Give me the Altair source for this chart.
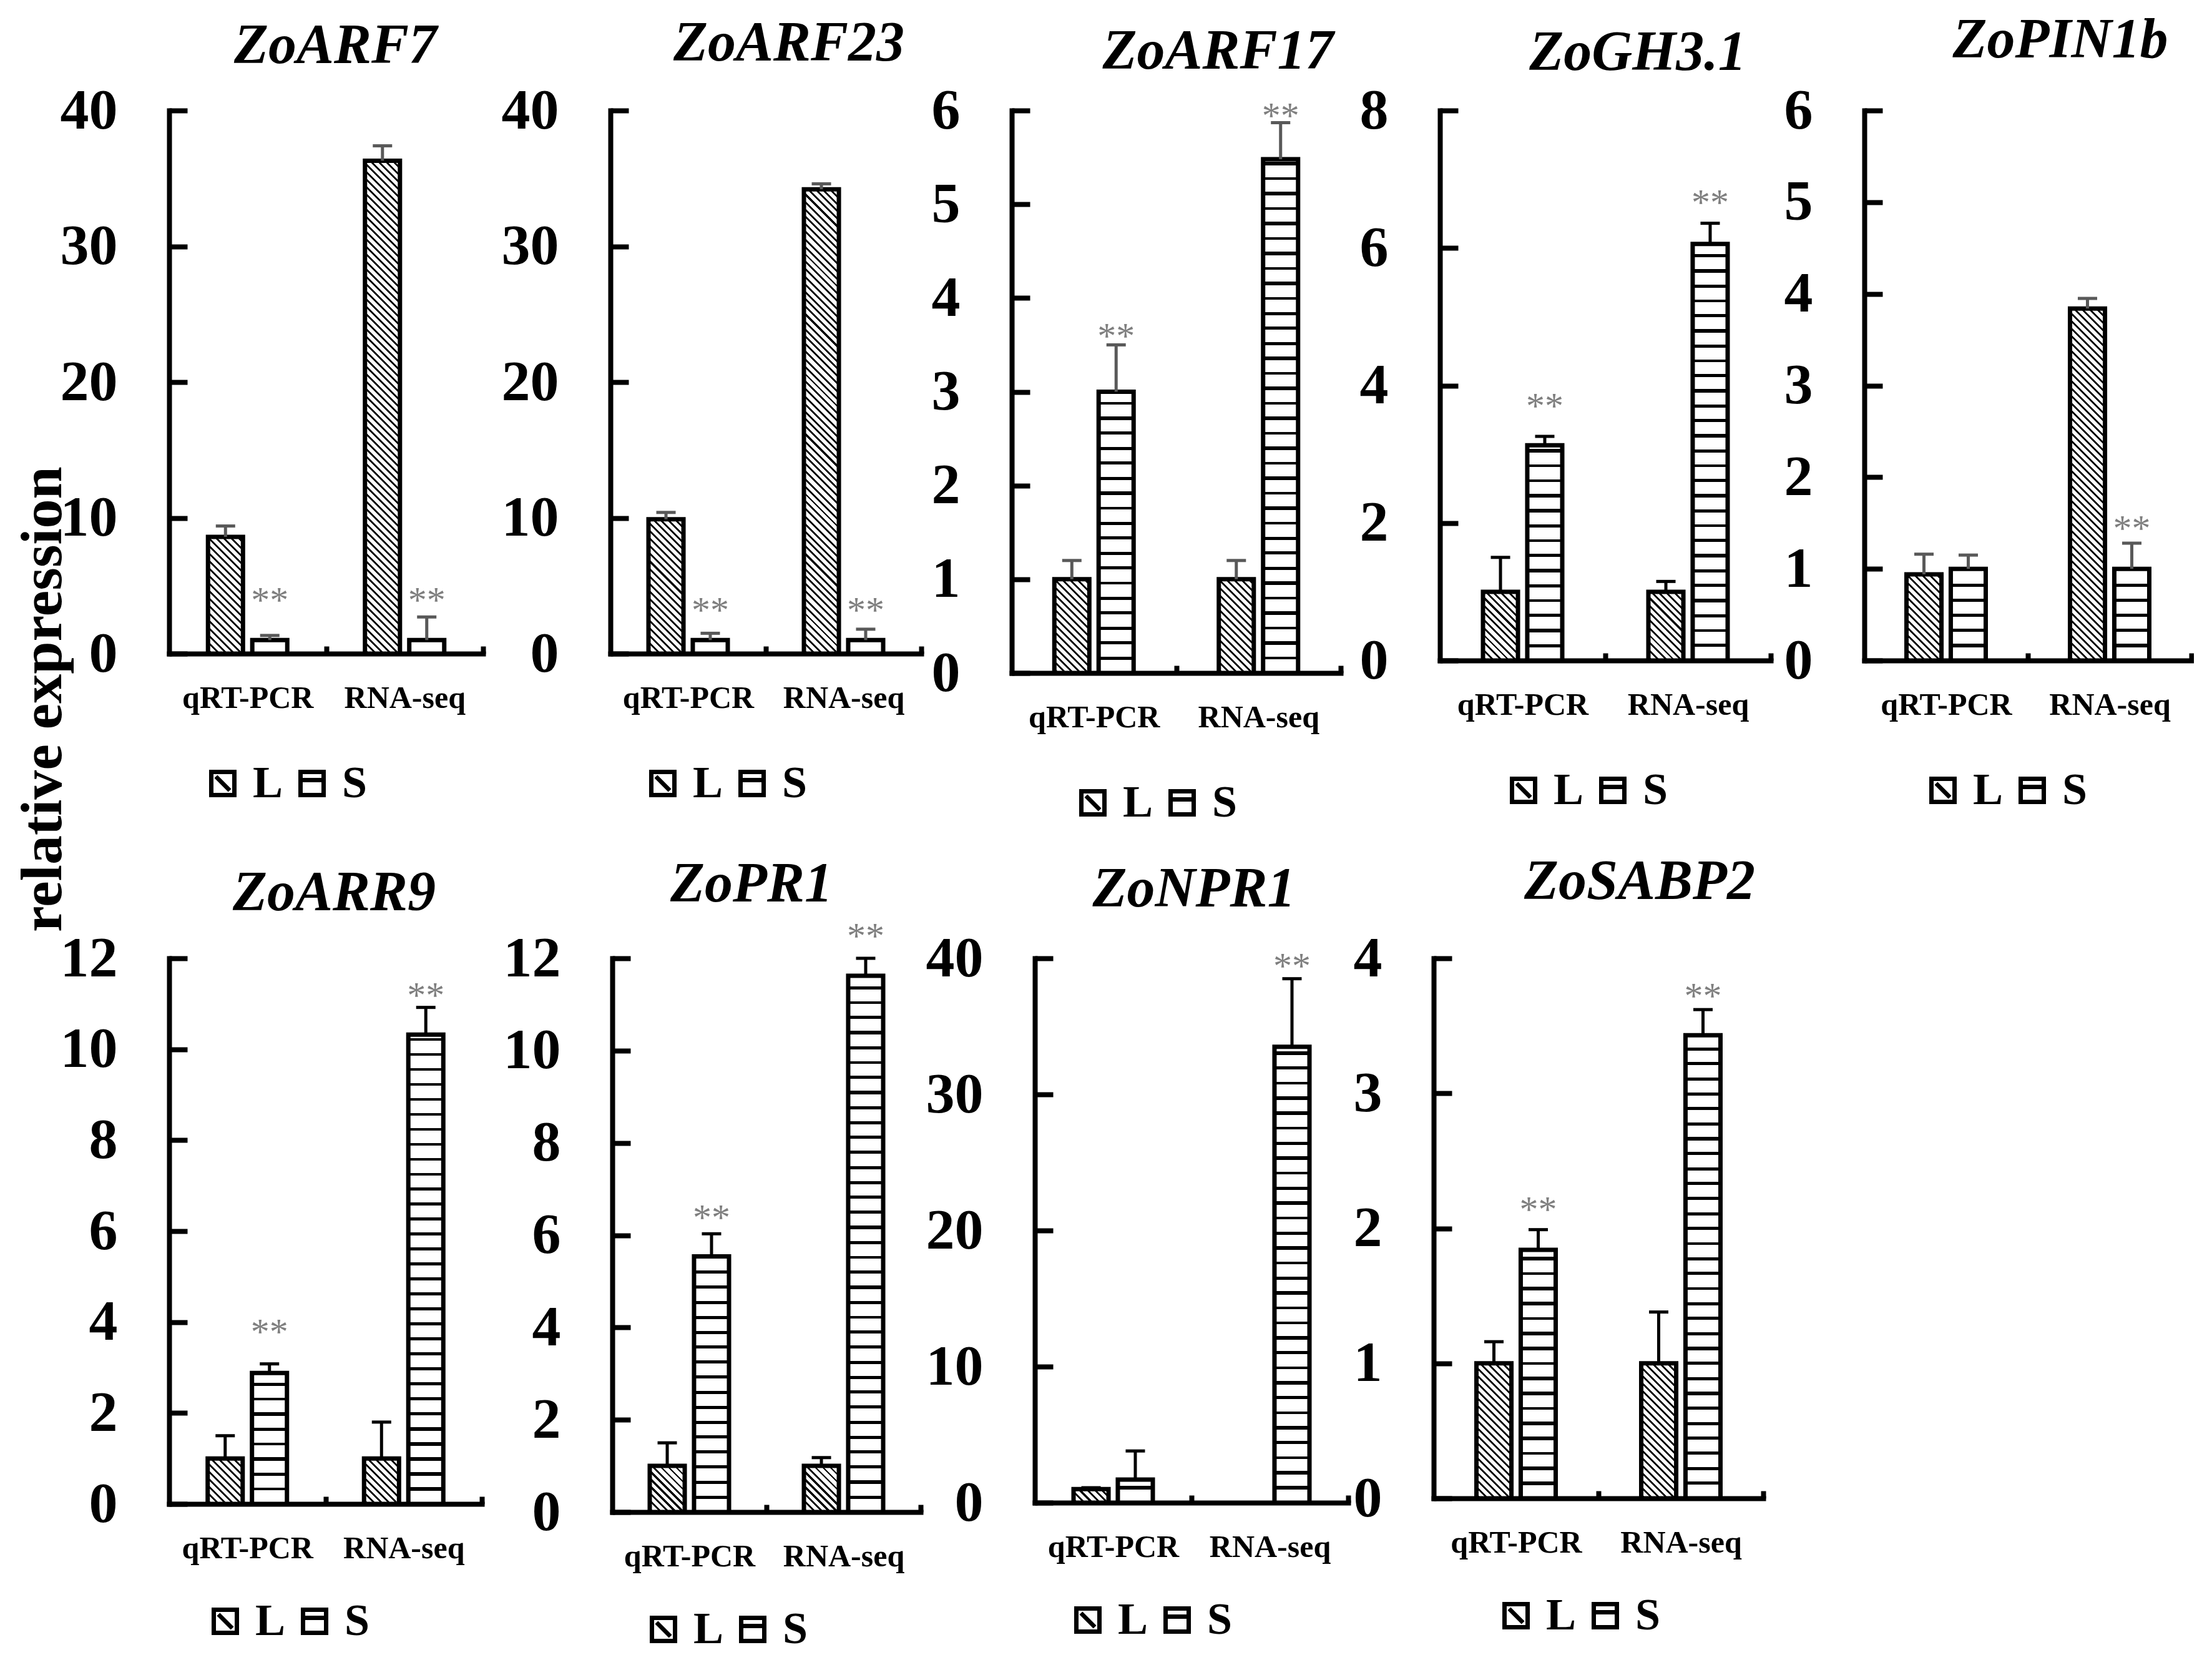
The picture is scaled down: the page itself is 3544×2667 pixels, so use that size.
import altair as alt
import pandas as pd

SERIF = "Liberation Serif"

GENES = ["ZoARF7", "ZoARF23", "ZoARF17", "ZoGH3.1", "ZoPIN1b",
         "ZoARR9", "ZoPR1", "ZoNPR1", "ZoSABP2"]
METHODS = ["qRT-PCR", "RNA-seq"]
GROUPS = ["L", "S"]
Y_MAX = [40, 40, 6, 8, 6, 12, 12, 40, 4]
Y_STEP = [10, 10, 1, 2, 1, 2, 2, 10, 1]

# bar heights, order: qRT-PCR L, qRT-PCR S, RNA-seq L, RNA-seq S
MEAN = [
    [8.6, 1.0, 36.3, 1.0],
    [9.9, 1.0, 34.2, 1.0],
    [1.0, 3.0, 1.0, 5.48],
    [1.0, 3.13, 1.0, 6.06],
    [0.94, 1.0, 3.84, 1.0],
    [1.0, 2.88, 1.0, 10.32],
    [1.0, 5.54, 1.0, 11.62],
    [1.0, 1.7, 0.0, 33.5],
    [1.0, 1.84, 1.0, 3.43],
]
# top of each error bar
UPPER = [
    [9.4, 1.34, 37.4, 2.7],
    [10.4, 1.5, 34.6, 1.8],
    [1.2, 3.5, 1.2, 5.87],
    [1.5, 3.26, 1.15, 6.36],
    [1.16, 1.15, 3.95, 1.28],
    [1.5, 3.08, 1.8, 10.92],
    [1.5, 6.03, 1.18, 12.0],
    [1.1, 3.8, None, 38.5],
    [1.16, 1.99, 1.38, 3.62],
]
# height of the "**" marks, None where there is none
STARS = [
    [None, 4.3, None, 4.3],
    [None, 3.6, None, 3.6],
    [None, 3.65, None, 6.0],
    [None, 3.78, None, 6.74],
    [None, None, None, 1.5],
    [None, 3.9, None, 11.3],
    [None, 6.5, None, 12.6],
    [None, None, None, 39.8],
    [None, 2.18, None, 3.76],
]

PLOT_W = [503, 498, 527, 530, 524, 501, 494, 502, 528]
PLOT_H = [870, 870, 901, 881, 881, 874, 887, 872, 865]
LEFT_GAP = [172, 200, 141, 155, 146, 172, 205, 179, 133]
TITLE_OFF = [11, 15, 2, 0, 20, 12, 8, 18, 30]
TITLE_DX = [15, 37, 67, 52, 52, 14, -24, 4, 66]
LEGEND_X = [50, 48, 94, 98, 90, 54, 46, 49, 96]
LEGEND_Y = [172, 172, 172, 172, 172, 152, 152, 152, 152]
ERR_COLOR = ["#595959", "#595959", "#595959", "black", "#595959",
             "black", "black", "black", "black"]

GROUP_BAND = 127
SUB_PAD = 0.21
BAR_W = GROUP_BAND / (2 - SUB_PAD) * (1 - SUB_PAD)

SYMBOLS = ["M-1,-1H1V1H-1Z M-0.6,-0.6L0.6,0.6", "M-1,-1H1V1H-1Z M-1,-0.3H1"]


def sharp_stops(centres, half):
    stops = [{"offset": 0.0, "color": "white"}]
    last = 0.0
    for c in sorted(centres):
        a = round(max(c - half, last), 5)
        b = round(min(c + half, 1.0), 5)
        if b <= a:
            continue
        stops += [{"offset": a, "color": "white"}, {"offset": a, "color": "black"},
                  {"offset": b, "color": "black"}, {"offset": b, "color": "white"}]
        last = b
    stops.append({"offset": 1.0, "color": "white"})
    return stops


def stripes(h):
    # horizontal lines every 24px, counted from the base of the bar
    centres = []
    d = 24
    while d < h - 3:
        centres.append(1 - d / h)
        d += 24
    return {"gradient": "linear", "x1": 0, "y1": 0, "x2": 0, "y2": 1,
            "stops": sharp_stops(centres, 2.5 / h)}


def diagonal(h):
    # "\" hatch: the gradient runs across x - y, from the bottom-left corner
    w = BAR_W
    r = h / w
    k = (1 + r) / (1 + r * r)
    span = w + h
    centres = []
    s = 6
    while s < span:
        centres.append(s / span)
        s += 12
    return {"gradient": "linear", "x1": 0, "y1": 1,
            "x2": round(k, 6), "y2": round(1 - k * r, 6),
            "stops": sharp_stops(centres, 2.0 / span)}


def panel(i):
    rows = []
    for mi, method in enumerate(METHODS):
        for gi, grp in enumerate(GROUPS):
            k = 2 * mi + gi
            rows.append({"method": method, "group": grp, "mean": MEAN[i][k],
                         "upper": UPPER[i][k], "star": STARS[i][k]})
    df = pd.DataFrame(rows)
    w, h = PLOT_W[i], PLOT_H[i]
    step = w / 2
    pad = 1 - GROUP_BAND / step

    x_axis = alt.Axis(title=None, labelAngle=0, labelFontSize=50, labelPadding=58,
                      labelLimit=500, tickSize={"expr": "-12"}, tickWidth=8,
                      tickOffset=step / 2, labelOffset=-step / 2, domainCap="square")
    x = alt.X("method:N", scale=alt.Scale(domain=METHODS, paddingInner=pad,
                                          paddingOuter=pad / 2), axis=x_axis)
    xo = alt.XOffset("group:N", scale=alt.Scale(domain=GROUPS, paddingInner=SUB_PAD,
                                                paddingOuter=0))
    y_axis = alt.Axis(values=list(range(0, Y_MAX[i] + 1, Y_STEP[i])), format="d",
                      labelFontSize=92, labelPadding=112, tickSize={"expr": "-29"},
                      tickWidth=8, minExtent=LEFT_GAP[i], domainCap="square", title=None)
    y_scale = alt.Scale(domain=[0, Y_MAX[i]], nice=False)

    base = alt.Chart(df)
    layers = []
    for r in rows:
        if r["mean"] <= 0:
            continue
        bar_h = r["mean"] / Y_MAX[i] * h
        fill = diagonal(bar_h) if r["group"] == "L" else stripes(bar_h)
        layers.append(
            base.transform_filter(
                (alt.datum.method == r["method"]) & (alt.datum.group == r["group"])
            ).mark_bar(fill=fill, stroke="black", strokeWidth=7).encode(
                x=x, xOffset=xo, y=alt.Y("mean:Q", scale=y_scale, axis=y_axis)
            )
        )

    err = base.transform_filter("isValid(datum.upper)")
    layers.append(err.mark_rule(color=ERR_COLOR[i], strokeWidth=5).encode(
        x=x, xOffset=xo, y=alt.Y("mean:Q", scale=y_scale, axis=y_axis), y2="upper:Q"))
    layers.append(err.mark_tick(color=ERR_COLOR[i], thickness=5, size=31, opacity=1).encode(
        x=x, xOffset=xo, y=alt.Y("upper:Q", scale=y_scale, axis=y_axis)))

    layers.append(base.transform_filter("isValid(datum.star)").mark_text(
        text="**", font=SERIF, fontSize=60, color="#7f7f7f", baseline="middle", dy=10
    ).encode(x=x, xOffset=xo, y=alt.Y("star:Q", scale=y_scale, axis=y_axis)))

    # legend only: no rows reach this layer, the legend comes from the shape scale
    layers.append(base.transform_filter("false").mark_point(
        filled=False, color="black", strokeWidth=7, size=1369, opacity=1).encode(
        x=x, xOffset=xo, y=alt.Y(datum=0, scale=y_scale, axis=y_axis),
        shape=alt.Shape("group:N", scale=alt.Scale(domain=GROUPS, range=SYMBOLS),
                        legend=alt.Legend(title=None, orient="none", legendX=LEGEND_X[i],
                                          legendY=h + LEGEND_Y[i], direction="horizontal",
                                          symbolSize=1369, symbolStrokeWidth=7,
                                          symbolStrokeColor="black", symbolOpacity=1,
                                          labelFont=SERIF, labelFontSize=72,
                                          labelFontWeight="bold", labelColor="black",
                                          labelOffset=12, columnPadding=10, padding=0))
    ))

    return alt.layer(*layers).properties(
        width=w, height=h,
        title=alt.TitleParams(GENES[i], font=SERIF, fontSize=90, fontStyle="italic",
                              fontWeight="bold", color="black", offset=TITLE_OFF[i],
                              dx=TITLE_DX[i], anchor="middle"),
    )


charts = [panel(i) for i in range(len(GENES))]
indep = dict(shape="independent", xOffset="independent")
top = alt.hconcat(*charts[:5], spacing=0).resolve_scale(**indep)
bottom = alt.hconcat(*charts[5:], spacing=0).resolve_scale(**indep)

chart = alt.vconcat(top, bottom, spacing=46).resolve_scale(**indep).properties(
    padding={"top": 12, "left": 14, "right": 0, "bottom": 10},
    title=alt.TitleParams("relative expression", orient="left", anchor="middle",
                          font=SERIF, fontSize=94, fontWeight="bold", color="black",
                          offset=-22, dx=213),
).configure_view(stroke=None).configure_axis(
    domainColor="black", domainWidth=8, tickColor="black", labelColor="black",
    labelFont=SERIF, labelFontWeight="bold", grid=False
)

chart.save("out.html", embed_options={"renderer": "svg", "actions": False})
